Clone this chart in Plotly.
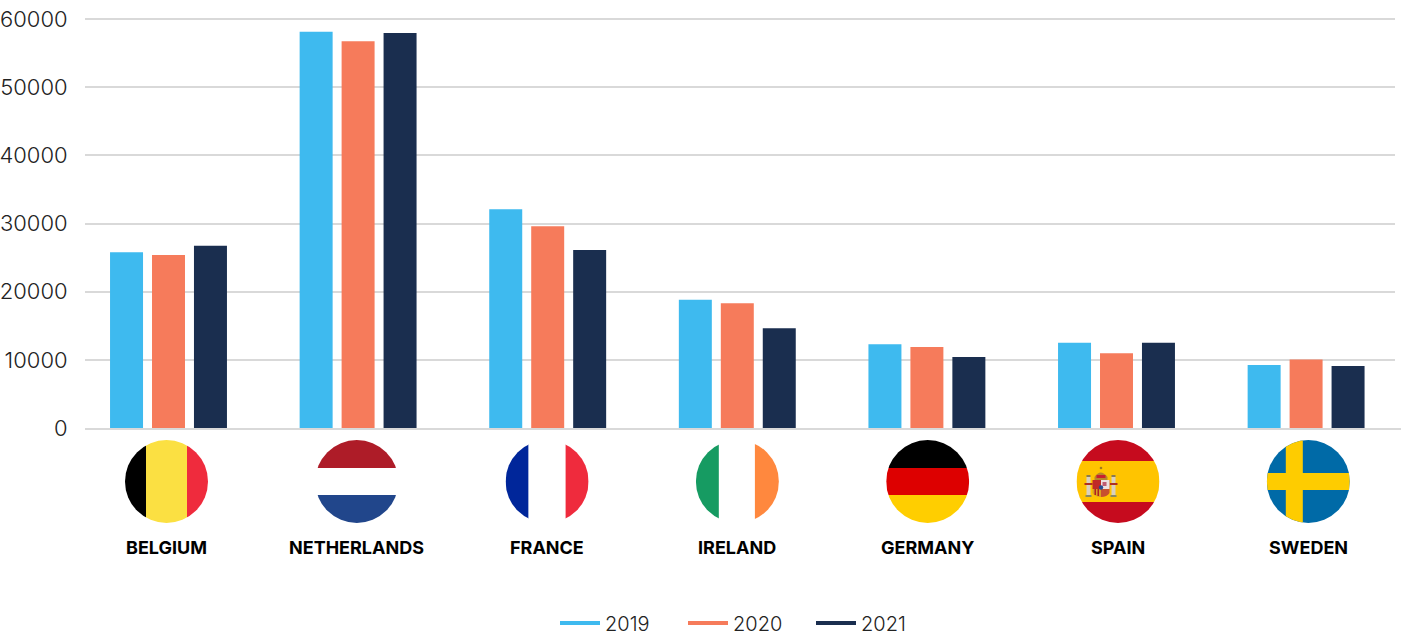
import base64
import plotly.graph_objects as go

countries = ["BELGIUM", "NETHERLANDS", "FRANCE", "IRELAND", "GERMANY", "SPAIN", "SWEDEN"]
v2019 = [25800, 58150, 32100, 18800, 12300, 12500, 9250]
v2020 = [25400, 56750, 29600, 18300, 11900, 10950, 10050]
v2021 = [26750, 57950, 26100, 14650, 10400, 12500, 9100]
years = ["2019", "2020", "2021"]
colors = ["#3EBAEF", "#F67B5B", "#1A2E4F"]
FONT = "Inter"


def svg(body):
    s = ('<svg xmlns="http://www.w3.org/2000/svg" width="83" height="83" viewBox="0 0 83 83">'
         '<defs><clipPath id="c"><circle cx="41.5" cy="41.5" r="41.5"/></clipPath></defs>'
         '<g clip-path="url(#c)">' + body + '</g></svg>')
    return "data:image/svg+xml;base64," + base64.b64encode(s.encode()).decode()


def r(x, y, w, h, c):
    return f'<rect x="{x}" y="{y}" width="{w}" height="{h}" fill="{c}"/>'


crest = (
    r(10, 37, 4, 18, "#D8D0C0") + r(35, 37, 4, 18, "#D8D0C0")
    + r(10, 35, 4, 2, "#8A7A50") + r(35, 35, 4, 2, "#8A7A50")
    + r(9, 55, 6, 2, "#8A8A60") + r(34, 55, 6, 2, "#8A8A60")
    + r(8, 43, 8, 2, "#B03020") + r(33, 43, 8, 2, "#B03020")
    + '<path d="M18 37 q6 -9 13 0 l0 3 h-13z" fill="#B8862A"/>'
    + r(20, 35, 9, 3, "#C8202E")
    + '<circle cx="24.5" cy="28" r="1.3" fill="#A07A20"/>'
    + r(16, 40, 17, 9, "#C02A26") + r(24.5, 40, 8.5, 9, "#EDE0E0")
    + r(26, 42, 4, 4, "#C05A70")
    + '<path d="M16 49 h8.5 v8 q-6 0 -8.5 -4z" fill="#D8A020"/>'
    + '<path d="M24.5 49 h8.5 v4 q-2.5 4 -8.5 4z" fill="#C8502E"/>'
    + r(18, 49, 1.5, 6, "#B02020") + r(21, 49, 1.5, 7, "#B02020")
    + '<circle cx="24.5" cy="47.5" r="2.2" fill="#2A4A90"/>'
)

flags = [
    r(0, 0, 21, 83, "#000000") + r(21, 0, 41, 83, "#FBE042") + r(62, 0, 21, 83, "#EF2B3D"),
    r(0, 0, 83, 28, "#AE1C28") + r(0, 28, 83, 27, "#FFFFFF") + r(0, 55, 83, 28, "#21468B"),
    r(0, 0, 23, 83, "#00269A") + r(23, 0, 37, 83, "#FFFFFF") + r(60, 0, 23, 83, "#EF2B3D"),
    r(0, 0, 23, 83, "#169B62") + r(23, 0, 36, 83, "#FFFFFF") + r(59, 0, 24, 83, "#FF883E"),
    r(0, 0, 83, 28, "#000000") + r(0, 28, 83, 27, "#DD0000") + r(0, 55, 83, 28, "#FFCE00"),
    r(0, 0, 83, 21, "#C60B1E") + r(0, 21, 83, 41, "#FFC400") + r(0, 62, 83, 21, "#C60B1E") + crest,
    r(0, 0, 83, 83, "#006AA7") + r(19, 0, 17, 83, "#FECC00") + r(0, 33, 83, 17, "#FECC00"),
]

fig = go.Figure()
for name, vals, col in zip(years, [v2019, v2020, v2021], colors):
    fig.add_bar(x=countries, y=vals, name=name, marker_color=col, marker_line_width=0,
                showlegend=False)
for name, col in zip(years, colors):
    fig.add_scatter(x=[None], y=[None], mode="lines", name=name,
                    line=dict(color=col, width=4))

L, R, T, B = 85, 1395, 17, 428
W, H = 1402, 636
pitch = 189.6
first = 168.5
x0 = (L - first) / pitch
x1 = (R - first) / pitch
label_pitch = 190.3
label_first = 166.5


def px(x):
    return (x - L) / (R - L)


def py(y):
    return (B - y) / (B - T)


for i, (f, name) in enumerate(zip(flags, countries)):
    c = label_first + i * label_pitch
    fig.add_layout_image(source=svg(f), xref="paper", yref="paper", x=px(c), y=py(481.5),
                         sizex=83 / (R - L), sizey=83 / (B - T), xanchor="center", yanchor="middle",
                         sizing="stretch", layer="above")
    fig.add_annotation(text=name, xref="paper", yref="paper", x=px(c), y=py(547),
                       xanchor="center", yanchor="middle", showarrow=False,
                       font=dict(family=FONT, size=18, color="#000000", weight=700))

fig.add_shape(type="line", xref="paper", yref="paper", x0=1, x1=px(1401), y0=py(429), y1=py(429),
              line=dict(color="#D9D9D9", width=2))

fig.update_layout(
    width=W, height=H, autosize=False,
    margin=dict(l=L, r=W - R, t=T, b=H - B, pad=0),
    paper_bgcolor="white", plot_bgcolor="white",
    barmode="group", bargap=0.336, bargroupgap=0.214,
    font=dict(family=FONT, color="#222222"),
    legend=dict(orientation="h", xref="container", yref="container",
                x=555 / W, xanchor="left", y=1 - 623 / H, yanchor="middle",
                itemwidth=40, font=dict(size=20, color="#222222", weight=300),
                entrywidth=73, entrywidthmode="pixels", traceorder="normal",
                bgcolor="rgba(0,0,0,0)"),
    xaxis=dict(type="category", categoryorder="array", categoryarray=countries, automargin=False,
               range=[x0, x1], showgrid=False, zeroline=False, showline=True,
               linecolor="#D9D9D9", linewidth=2, ticks="", showticklabels=False),
    yaxis=dict(range=[0, 60300], tickvals=[0, 10000, 20000, 30000, 40000, 50000, 60000],
               ticktext=["0", "10000", "20000", "30000", "40000", "50000", "60000"], automargin=False,
               showgrid=True, gridcolor="#D9D9D9", gridwidth=2, zeroline=False,
               showline=False, ticks="outside", ticklen=12, tickcolor="rgba(0,0,0,0)",
               ticklabeloverflow="allow",
               tickfont=dict(family=FONT, size=22, color="#222222", weight=300)),
)
fig.write_html("out.html", post_script="document.body.style.margin='0';",
               config={"displayModeBar": False})
